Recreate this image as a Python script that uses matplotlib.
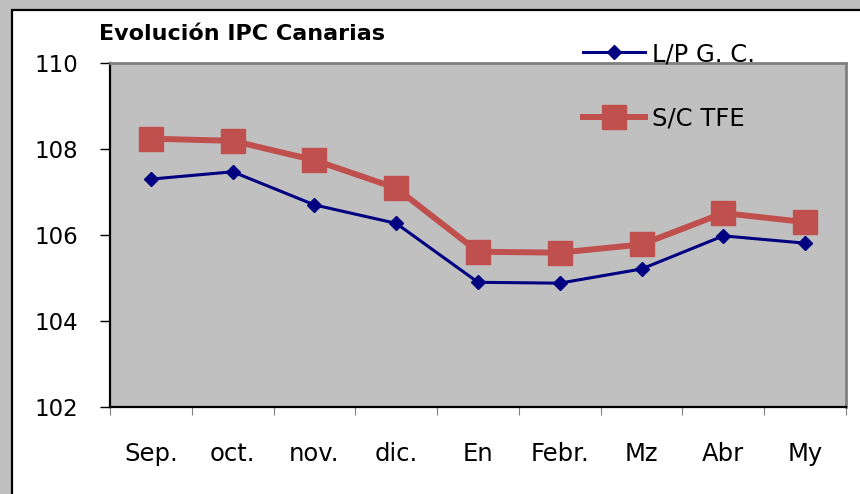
import matplotlib.pyplot as plt
from matplotlib.patches import Rectangle
import numpy as np

# the reference text is wide, DejaVu Sans is the widest family at hand
plt.rcParams["font.family"] = ["DejaVu Sans"]

months = ["Sep.", "oct.", "nov.", "dic.", "En", "Febr.", "Mz", "Abr", "My"]
lpgc = [107.30, 107.47, 106.70, 106.27, 104.90, 104.88, 105.21, 105.98, 105.81]
sctfe = [108.24, 108.19, 107.74, 107.09, 105.61, 105.59, 105.78, 106.51, 106.30]
title = "Evolución IPC Canarias"

W, H = 860, 494
fig = plt.figure(figsize=(W / 100, H / 100), dpi=100, facecolor="#c0c0c0")

# white chart area with black frame (runs off right and bottom)
frame = Rectangle((12 / W, -0.2), 1.2, 1 - 10 / H + 0.2, transform=fig.transFigure,
                  facecolor="white", edgecolor="black", linewidth=1.6, zorder=-5)
fig.patches.append(frame)

ax = fig.add_axes([110 / W, 1 - 407 / H, (846 - 110) / W, (407 - 63) / H])
ax.set_zorder(2)
ax.set_facecolor("#c0c0c0")

x = np.arange(len(months))
ax.plot(x, lpgc, color="#000080", lw=2.2, marker="D", ms=7, label="L/P G. C.", zorder=3)
ax.plot(x, sctfe, color="#c0504d", lw=4.3, marker="s", ms=17.5, label="S/C TFE", zorder=2)

ax.set_xlim(-0.5, len(months) - 0.5)
ax.set_ylim(102, 110)
ax.set_yticks(np.arange(102, 111, 2))
ax.tick_params(axis="y", direction="out", length=7, width=1, pad=16, labelsize=16.5)

ax.set_xticks(np.arange(-0.5, len(months), 1))
ax.set_xticklabels([])
ax.set_xticks(x, minor=True)
ax.set_xticklabels(months, minor=True)
ax.tick_params(axis="x", which="major", direction="out", length=6, width=0.8, color="#808080")
ax.tick_params(axis="x", which="minor", length=0, pad=25, labelsize=17.5)

for s in ["left", "bottom"]:
    ax.spines[s].set_color("black")
    ax.spines[s].set_linewidth(1.6)
for s in ["top", "right"]:
    ax.spines[s].set_color("#808080")
    ax.spines[s].set_linewidth(2)

fig.text(99 / W, 1 - 40 / H, title, fontsize=16, fontweight="bold", va="baseline")

ax.legend(loc="upper left", bbox_to_anchor=(583 / W, 1 - 42 / H),
          bbox_transform=fig.transFigure, frameon=False, fontsize=17.5,
          handlelength=2.55, handletextpad=0.3, labelspacing=1.65,
          borderpad=0, borderaxespad=0)

fig.savefig("out.png", dpi=100, facecolor=fig.get_facecolor())
